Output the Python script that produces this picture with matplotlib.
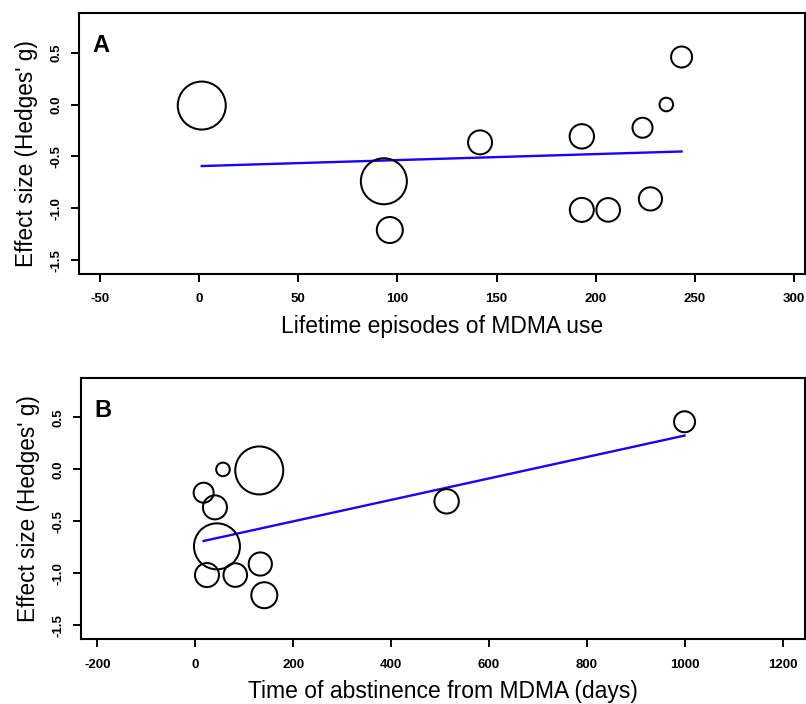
import matplotlib
matplotlib.use("Agg")
import matplotlib.pyplot as plt
import numpy as np

plt.rcParams['font.family'] = ['Liberation Sans', 'DejaVu Sans']
plt.rcParams['axes.unicode_minus'] = False

# ---- data (one entry per study) ----
lifetime_episodes = [1.4, 93.2, 96.2, 141.7, 193.0, 223.6, 235.6, 243.3, 193.0, 206.3, 227.6]
abstinence_days   = [130.7, 44.3, 141.0, 40.2, 513.4, 17.1, 56.6, 999.4, 23.9, 81.7, 132.8]
hedges_g          = [-0.01, -0.74, -1.21, -0.365, -0.307, -0.224, 0.0, 0.458, -1.016, -1.016, -0.91]
rel_size          = [25.0, 24.0, 14.0, 13.0, 13.2, 11.0, 7.8, 11.5, 13.0, 12.8, 12.6]

# meta-regression fits (intercept, slope)
fit_A = (-0.594, 0.00058)
fit_B = (-0.706, 0.001032)

xticks_A = [-50, 0, 50, 100, 150, 200, 250, 300]
xticks_B = [-200, 0, 200, 400, 600, 800, 1000, 1200]
yticks = [0.5, 0.0, -0.5, -1.0, -1.5]
ytick_labels = ['0.5', '0.0', '-0.5', '-1.0', '-1.5']

DPI = 100
fig = plt.figure(figsize=(8.06, 7.04), dpi=DPI)
axA = fig.add_axes([0.098, 0.6108, 0.9007, 0.3707])
axB = fig.add_axes([0.1005, 0.0919, 0.8986, 0.3716])

# marker sizes: rel_size ~ outer radius in pixels
lw_px = 2.0
diam_pt = [(2 * r - lw_px) * 72.0 / DPI for r in rel_size]
s_vals = [d ** 2 for d in diam_pt]


def draw(ax, x, fit, xlim, xticks, xlabel, letter, ylabel_y):
    ax.scatter(x, hedges_g, s=s_vals, facecolors='none', edgecolors='black',
               linewidths=1.45, zorder=3)
    xs = np.array([min(x), max(x)])
    ax.plot(xs, fit[0] + fit[1] * xs, color='#1a00ff', lw=1.7, zorder=2)
    ax.set_xlim(*xlim)
    ax.set_ylim(-1.634, 0.882)
    ax.set_xticks(xticks)
    ax.set_xticklabels([str(t) for t in xticks], fontweight='bold', fontsize=9.5)
    ax.set_yticks(yticks)
    ax.set_yticklabels(ytick_labels, fontweight='bold', fontsize=9.5,
                       rotation=90, va='center')
    ax.tick_params(axis='both', length=6, width=1.4, direction='out', pad=8,
                   color='black')
    ax.tick_params(axis='y', pad=6)
    for sp in ax.spines.values():
        sp.set_linewidth(1.5)
        sp.set_color('black')
    ax.set_xlabel(xlabel, fontsize=16.5, labelpad=7)
    ax.set_ylabel("Effect size (Hedges' g)", fontsize=16.3, labelpad=9)
    ax.yaxis.label.set_y(ylabel_y)
    ax.text(0.019, 0.85, letter, transform=ax.transAxes, fontsize=17,
            fontweight='bold', ha='left', va='baseline')


draw(axA, lifetime_episodes, fit_A, (-60.5, 305.5), xticks_A,
     'Lifetime episodes of MDMA use', 'A', 0.462)
draw(axB, abstinence_days, fit_B, (-233.4, 1246), xticks_B,
     'Time of abstinence from MDMA (days)', 'B', 0.5)

fig.savefig('out.png', dpi=DPI)
